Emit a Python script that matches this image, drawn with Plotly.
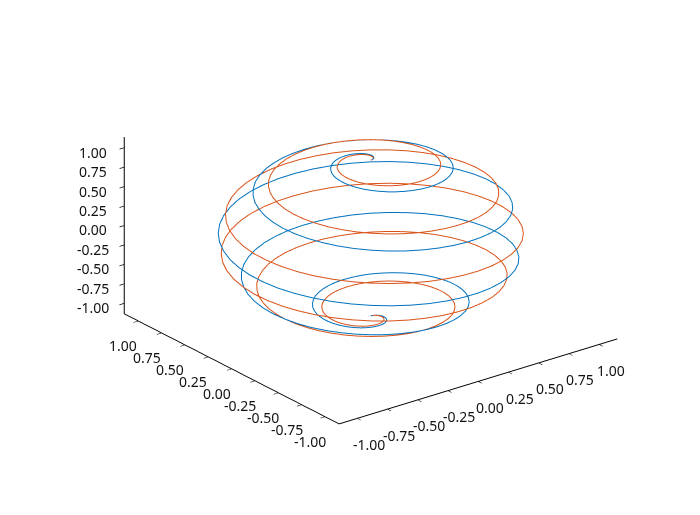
import plotly.graph_objects as go

tick_vals = [-1, -0.75, -0.5, -0.25, 0, 0.25, 0.5, 0.75, 1]
tick_text = ['-1.00', '-0.75', '-0.50', '-0.25', '0.00', '0.25', '0.50', '0.75', '1.00']

blue_x = [0,.013,.025,.036,.045,.052,.056,.056,.052,.045,.034,.019,0,-.022,-.047,-.075,-.104,-.134,-.165,-.195,-.224,-.251,-.274,-.294,-.309,-.319,-.322,-.320,-.310,-.294,-.271,-.240,-.203,-.160,-.111,-.058,0,.061,.124,.187,.250,.311,.369,.423,.472,.513,.547,.572,.588,.593,.588,.572,.545,.507,.459,.401,.335,.260,.178,.091,0,-.093,-.188,-.281,-.372,-.458,-.538,-.610,-.673,-.726,-.766,-.794,-.809,-.810,-.796,-.768,-.726,-.671,-.603,-.523,-.433,-.334,-.227,-.115,0,.117,.234,.348,.457,.559,.653,.737,.808,.867,.910,.939,.951,.947,.926,.889,.836,.769,.688,.594,.489,.375,.254,.129,0,-.129,-.257,-.380,-.497,-.606,-.705,-.792,-.865,-.923,-.966,-.991,-1,
 -.991,-.966,-.923,-.865,-.792,-.705,-.606,-.497,-.380,-.257,-.129,0,.129,.254,.375,.489,.594,.688,.769,.836,.889,.926,.947,.951,.939,.910,.867,.808,.737,.653,.559,.457,.348,.234,.117,0,-.115,-.227,-.334,-.433,-.523,-.603,-.671,-.726,-.768,-.796,-.810,-.809,-.794,-.766,-.726,-.673,-.610,-.538,-.458,-.372,-.281,-.188,-.093,0,.091,.178,.260,.335,.401,.459,.507,.545,.572,.588,.593,.588,.572,.547,.513,.472,.423,.369,.311,.250,.187,.124,.061,0,-.058,-.111,-.160,-.203,-.240,-.271,-.294,-.310,-.320,-.322,-.319,-.309,-.294,-.274,-.251,-.224,-.195,-.165,-.134,-.104,-.075,-.047,-.022,0,.019,.034,.045,.052,.056,.056,.052,.045,.036,.025,.013,0]
blue_y = [0,.002,.007,.015,.026,.040,.056,.073,.091,.109,.126,.142,.156,.168,.176,.180,.180,.175,.165,.150,.129,.104,.074,.039,0,-.042,-.086,-.132,-.179,-.226,-.271,-.313,-.352,-.387,-.416,-.438,-.454,-.462,-.461,-.451,-.433,-.406,-.369,-.325,-.272,-.213,-.147,-.075,0,.078,.158,.237,.315,.389,.459,.523,.579,.627,.665,.692,.707,.710,.701,.678,.644,.596,.538,.468,.389,.301,.205,.105,0,-.107,-.213,-.318,-.419,-.515,-.603,-.682,-.750,-.806,-.849,-.877,-.891,-.889,-.872,-.839,-.791,-.729,-.653,-.565,-.467,-.359,-.244,-.124,0,.125,.248,.368,.483,.590,.688,.774,.847,.906,.950,.977,.988,.981,.958,.918,.861,.790,.705,.608,.499,.382,.259,.130,0,
 -.130,-.259,-.382,-.499,-.608,-.705,-.790,-.861,-.918,-.958,-.981,-.988,-.977,-.950,-.906,-.847,-.774,-.688,-.590,-.483,-.368,-.248,-.125,0,.124,.244,.359,.467,.565,.653,.729,.791,.839,.872,.889,.891,.877,.849,.806,.750,.682,.603,.515,.419,.318,.213,.107,0,-.105,-.205,-.301,-.389,-.468,-.538,-.596,-.644,-.678,-.701,-.710,-.707,-.692,-.665,-.627,-.579,-.523,-.459,-.389,-.315,-.237,-.158,-.078,0,.075,.147,.213,.272,.325,.369,.406,.433,.451,.461,.462,.454,.438,.416,.387,.352,.313,.271,.226,.179,.132,.086,.042,0,-.039,-.074,-.104,-.129,-.150,-.165,-.175,-.180,-.180,-.176,-.168,-.156,-.142,-.126,-.109,-.091,-.073,-.056,-.040,-.026,-.015,-.007,-.002,0]
blue_z = [1,.9999,.9997,.9992,.9986,.9979,.9969,.9958,.9945,.9931,.9914,.9897,.9877,.9856,.9833,.9808,.9781,.9753,.9724,.9692,.9659,.9625,.9588,.9550,.9511,.9469,.9426,.9382,.9336,.9288,.9239,.9188,.9135,.9081,.9026,.8969,.8910,.8850,.8788,.8725,.8660,.8594,.8526,.8457,.8387,.8315,.8241,.8166,.8090,.8013,.7934,.7853,.7771,.7688,.7604,.7518,.7431,.7343,.7254,.7163,.7071,.6978,.6884,.6788,.6691,.6593,.6494,.6394,.6293,.6191,.6088,.5983,.5878,.5771,.5664,.5556,.5446,.5336,.5225,.5113,.5,.4886,.4772,.4656,.4540,.4423,.4305,.4187,.4067,.3947,.3827,.3706,.3584,.3461,.3338,.3214,.3090,.2965,.2840,.2714,.2588,.2462,.2334,.2207,.2079,.1951,.1822,.1693,.1564,.1435,.1305,.1175,.1045,.0915,.0785,.0654,.0523,.0393,.0262,.0131,0,
 -.013,-.026,-.039,-.052,-.065,-.079,-.092,-.105,-.118,-.131,-.144,-.156,-.169,-.182,-.195,-.208,-.221,-.233,-.246,-.259,-.271,-.284,-.297,-.309,-.321,-.334,-.346,-.358,-.371,-.383,-.395,-.407,-.419,-.431,-.442,-.454,-.466,-.477,-.489,-.5,-.511,-.523,-.534,-.545,-.556,-.566,-.577,-.588,-.598,-.609,-.619,-.629,-.639,-.649,-.659,-.669,-.679,-.688,-.698,-.707,-.716,-.725,-.734,-.743,-.752,-.760,-.769,-.777,-.785,-.793,-.801,-.809,-.817,-.824,-.832,-.839,-.846,-.853,-.859,-.866,-.873,-.879,-.885,-.891,-.897,-.903,-.908,-.914,-.919,-.924,-.929,-.934,-.938,-.943,-.947,-.951,-.955,-.959,-.962,-.966,-.969,-.972,-.975,-.978,-.981,-.983,-.986,-.988,-.990,-.991,-.993,-.995,-.996,-.997,-.998,-.999,-.999,-1,-1,-1]

red_x = [0,.011,.021,.030,.038,.043,.046,.046,.044,.038,.028,.016,0,-.018,-.039,-.062,-.087,-.112,-.138,-.163,-.187,-.210,-.230,-.246,-.259,-.267,-.270,-.268,-.260,-.247,-.227,-.202,-.171,-.135,-.094,-.049,0,.051,.104,.158,.211,.263,.313,.359,.400,.436,.465,.486,.5,.505,.501,.488,.465,.434,.393,.344,.287,.223,.153,.078,0,-.081,-.162,-.243,-.321,-.396,-.466,-.530,-.585,-.632,-.668,-.693,-.707,-.709,-.698,-.674,-.639,-.591,-.532,-.462,-.383,-.296,-.202,-.103,0,.104,.209,.311,.410,.502,.588,.664,.730,.785,.826,.853,.866,.864,.847,.815,.768,.708,.634,.549,.453,.349,.237,.120,0,-.121,-.241,-.358,-.470,-.574,-.670,-.754,-.826,-.884,-.927,-.955,-.966,-.960,-.938,-.900,-.846,-.776,-.694,-.598,-.492,-.378,-.256,-.129,0,.130,.257,.381,.498,.607,.706,.792,.865,.923,.966,.991,1,
 .991,.966,.923,.865,.792,.706,.607,.498,.381,.257,.130,0,-.129,-.256,-.378,-.492,-.598,-.694,-.776,-.846,-.900,-.938,-.960,-.966,-.955,-.927,-.884,-.826,-.754,-.670,-.574,-.470,-.358,-.241,-.121,0,.120,.237,.349,.453,.549,.634,.708,.768,.815,.847,.864,.866,.853,.826,.785,.730,.664,.588,.502,.410,.311,.209,.104,0,-.103,-.202,-.296,-.383,-.462,-.532,-.591,-.639,-.674,-.698,-.709,-.707,-.693,-.668,-.632,-.585,-.530,-.466,-.396,-.321,-.243,-.162,-.081,0,.078,.153,.223,.287,.344,.393,.434,.465,.488,.501,.505,.5,.486,.465,.436,.400,.359,.313,.263,.211,.158,.104,.051,0,-.049,-.094,-.135,-.171,-.202,-.227,-.247,-.260,-.268,-.270,-.267,-.259,-.246,-.230,-.210,-.187,-.163,-.138,-.112,-.087,-.062,-.039,-.018,0,.016,.028,.038,.044,.046,.046,.043,.038,.030,.021,.011,0]
red_y = [0,.001,.006,.013,.022,.033,.046,.061,.076,.091,.105,.119,.131,.140,.147,.151,.150,.146,.138,.125,.108,.087,.062,.032,0,-.035,-.072,-.111,-.150,-.189,-.227,-.263,-.296,-.325,-.350,-.369,-.383,-.389,-.389,-.381,-.366,-.343,-.313,-.275,-.231,-.180,-.124,-.064,0,.066,.134,.202,.269,.333,.393,.448,.497,.538,.571,.595,.609,.612,.605,.586,.557,.517,.466,.406,.338,.262,.179,.091,0,-.093,-.187,-.279,-.369,-.453,-.532,-.602,-.663,-.714,-.753,-.780,-.793,-.793,-.779,-.751,-.709,-.655,-.588,-.510,-.422,-.325,-.221,-.112,0,.114,.227,.338,.444,.543,.634,.715,.785,.842,.884,.912,.924,.920,.900,.865,.814,.749,.670,.579,.477,.366,.248,.126,0,-.126,-.251,-.373,-.488,-.596,-.694,-.780,-.853,-.911,-.955,-.981,-.991,-.984,-.960,-.919,-.863,-.791,-.706,-.608,-.500,-.383,-.259,-.131,0,
 .131,.259,.383,.500,.608,.706,.791,.863,.919,.960,.984,.991,.981,.955,.911,.853,.780,.694,.596,.488,.373,.251,.126,0,-.126,-.248,-.366,-.477,-.579,-.670,-.749,-.814,-.865,-.900,-.920,-.924,-.912,-.884,-.842,-.785,-.715,-.634,-.543,-.444,-.338,-.227,-.114,0,.112,.221,.325,.422,.510,.588,.655,.709,.751,.779,.793,.793,.780,.753,.714,.663,.602,.532,.453,.369,.279,.187,.093,0,-.091,-.179,-.262,-.338,-.406,-.466,-.517,-.557,-.586,-.605,-.612,-.609,-.595,-.571,-.538,-.497,-.448,-.393,-.333,-.269,-.202,-.134,-.066,0,.064,.124,.180,.231,.275,.313,.343,.366,.381,.389,.389,.383,.369,.350,.325,.296,.263,.227,.189,.150,.111,.072,.035,0,-.032,-.062,-.087,-.108,-.125,-.138,-.146,-.150,-.151,-.147,-.140,-.131,-.119,-.105,-.091,-.076,-.061,-.046,-.033,-.022,-.013,-.006,-.001,0]
red_z = [1,.9999,.9998,.9995,.9990,.9985,.9979,.9971,.9962,.9952,.9941,.9928,.9914,.9900,.9884,.9866,.9848,.9829,.9808,.9786,.9763,.9739,.9713,.9687,.9659,.9630,.9600,.9569,.9537,.9504,.9469,.9434,.9397,.9359,.9320,.9280,.9239,.9197,.9153,.9109,.9063,.9016,.8969,.8920,.8870,.8819,.8767,.8714,.8660,.8606,.8549,.8493,.8434,.8375,.8315,.8254,.8192,.8128,.8064,.8000,.7934,.7866,.7799,.7730,.7660,.7590,.7518,.7446,.7373,.7299,.7224,.7147,.7071,.6994,.6915,.6836,.6756,.6675,.6593,.6511,.6428,.6344,.6259,.6174,.6088,.6000,.5913,.5825,.5736,.5646,.5556,.5464,.5373,.5279,.5188,.5093,.5,.4904,.4810,.4714,.4617,.4520,.4423,.4325,.4226,.4127,.4027,.3927,.3827,.3726,.3624,.3523,.3420,.3318,.3214,.3111,.3007,.2903,.2798,.2694,.2588,.2483,.2377,.2271,.2164,.2058,.1951,.1844,.1736,.1629,.1521,.1413,.1305,.1197,.1089,.0980,.0872,.0763,.0654,.0545,.0436,.0327,.0218,.0109,0,
 -.011,-.022,-.033,-.044,-.055,-.065,-.076,-.087,-.098,-.109,-.120,-.131,-.141,-.152,-.163,-.174,-.184,-.195,-.206,-.216,-.227,-.238,-.248,-.259,-.269,-.280,-.290,-.301,-.311,-.321,-.332,-.342,-.352,-.362,-.373,-.383,-.393,-.403,-.413,-.423,-.433,-.442,-.452,-.462,-.471,-.481,-.490,-.5,-.509,-.519,-.528,-.537,-.546,-.556,-.565,-.574,-.583,-.591,-.600,-.609,-.617,-.626,-.634,-.643,-.651,-.659,-.668,-.676,-.684,-.692,-.699,-.707,-.715,-.722,-.730,-.737,-.745,-.752,-.759,-.766,-.773,-.780,-.787,-.793,-.800,-.806,-.813,-.819,-.825,-.832,-.837,-.843,-.849,-.855,-.861,-.866,-.871,-.877,-.882,-.887,-.892,-.897,-.902,-.906,-.911,-.915,-.920,-.924,-.928,-.932,-.936,-.940,-.943,-.947,-.950,-.954,-.957,-.960,-.963,-.966,-.969,-.971,-.974,-.976,-.979,-.981,-.983,-.985,-.987,-.988,-.990,-.991,-.993,-.994,-.995,-.996,-.997,-.998,-.999,-.999,-1,-1,-1,-1]

X_MIN, X_MAX = -1.15, 1.15
Z_MIN, Z_MAX = -1.135, 1.135
ax = dict(range=[X_MIN, X_MAX], tickvals=tick_vals, showticklabels=False, showgrid=False,
          zeroline=False, showbackground=False, showline=True, linecolor='#000000', linewidth=2,
          ticks='outside', ticklen=6, tickwidth=1.5, tickcolor='#000000', title=dict(text=''), showspikes=False)
font = dict(family='Noto Sans', size=14, color='#111111')
ann = []
for v, s in zip(tick_vals, tick_text):
    ann.append(dict(x=v, y=X_MIN, z=Z_MIN, text=s, showarrow=False, xshift=11.5, yshift=-26, font=font))
    ann.append(dict(x=X_MIN, y=v, z=Z_MIN, text=s, showarrow=False, xshift=-15, yshift=-24.5, font=font))
    ann.append(dict(x=X_MIN, y=X_MAX, z=v, text=s, showarrow=False, xshift=-31, yshift=-4.5, font=font))

fig = go.Figure([
    go.Scatter3d(x=blue_x, y=blue_y, z=blue_z, mode='lines', line=dict(color='#0072BD', width=2), showlegend=False, hoverinfo='skip'),
    go.Scatter3d(x=red_x, y=red_y, z=red_z, mode='lines', line=dict(color='#D95319', width=2), showlegend=False, hoverinfo='skip'),
])
e = [-.61, -.79, .43]
c = [-.065, -.003, -.098]
fig.update_layout(width=700, height=515, margin=dict(l=0, r=0, t=0, b=0), paper_bgcolor='white',
    scene=dict(xaxis=ax, yaxis=ax, zaxis=dict(ax, range=[Z_MIN, Z_MAX]), annotations=ann,
               aspectmode='manual', aspectratio=dict(x=1.365, y=1.365, z=.747),
               camera=dict(projection=dict(type='orthographic'),
                           eye=dict(x=e[0]+c[0], y=e[1]+c[1], z=e[2]+c[2]),
                           center=dict(x=c[0], y=c[1], z=c[2]), up=dict(x=0, y=0, z=1)),
               domain=dict(x=[0, 1], y=[0, 1])))
fig.write_html('out.html')
